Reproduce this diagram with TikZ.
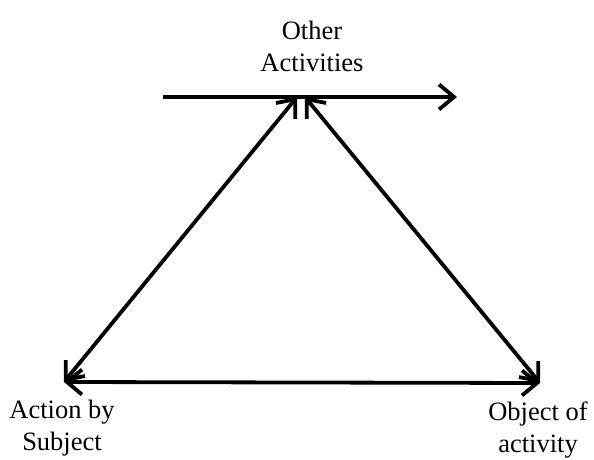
\documentclass[tikz,border=0pt]{standalone}
\usepackage{fontspec}
\setmainfont{Liberation Serif}
\usetikzlibrary{arrows.meta}
\begin{document}
\begin{tikzpicture}[x=1pt,y=1pt,
  conn/.style={line width=3.8pt, {Straight Barb[length=15pt,width=25pt]}-{Straight Barb[length=15pt,width=25pt]}},
  oneway/.style={line width=3.8pt, -{Straight Barb[length=15pt,width=25pt]}},
  lbl/.style={font=\fontsize{26.5}{32}\selectfont, align=center, inner sep=0pt}]
\useasboundingbox (0,0) rectangle (594,460);
\coordinate (L) at (64,78);
\coordinate (R) at (540,77);
\coordinate (TL) at (297,363);
\coordinate (TR) at (305,363);
\coordinate (H1) at (163,363);
\coordinate (H2) at (457,363);
\node[lbl] (top) at (312,414) {Other\\Activities};
\node[lbl] (act) at (62,32) {Action by\\Subject};
\node[lbl] (obj) at (538,30) {Object of\\activity};
\draw[oneway] (H1) -- (H2);
\draw[conn] (L) -- (TL);
\draw[conn] (R) -- (TR);
\draw[conn] (L) -- (R);
\end{tikzpicture}
\end{document}
